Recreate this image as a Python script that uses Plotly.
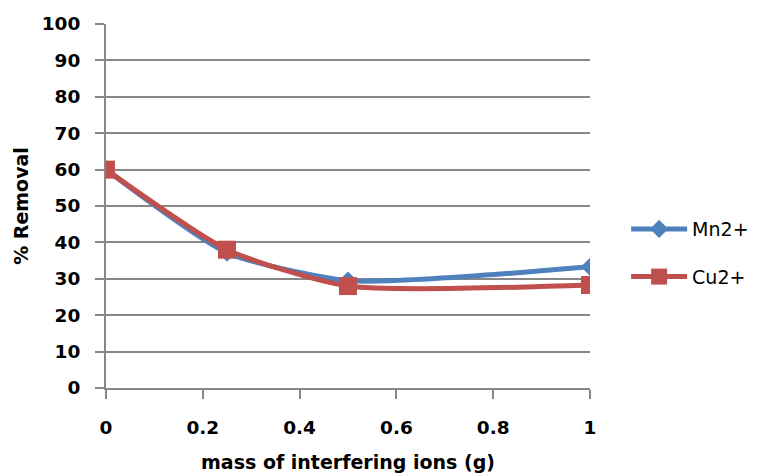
import plotly.graph_objects as go

# Mass of interfering ions (g)
mass_g = [0, 0.25, 0.5, 1]

# Percent removal for each ion
mn_removal = [60, 37.2, 29.5, 33.3]
cu_removal = [60, 38.0, 28.0, 28.3]

series_names = ["Mn2+", "Cu2+"]
x_ticks = [0, 0.2, 0.4, 0.6, 0.8, 1]
x_tick_text = ["0", "0.2", "0.4", "0.6", "0.8", "1"]
y_ticks = list(range(0, 101, 10))

BLUE = "#4F81BD"
RED = "#C0504D"
GRID = "#878787"
FONT = "DejaVu Sans"

fig = go.Figure()
fig.add_trace(go.Scatter(
    x=mass_g, y=mn_removal, name=series_names[0], mode="lines+markers",
    line=dict(color=BLUE, width=5, shape="spline", smoothing=0.6),
    marker=dict(symbol="diamond", size=14, color=BLUE),
    legendgroup="mn",
))
fig.add_trace(go.Scatter(
    x=mass_g, y=cu_removal, name=series_names[1], mode="lines+markers",
    line=dict(color=RED, width=5, shape="spline", smoothing=0.6),
    marker=dict(symbol="square", size=18, color=RED),
    legendgroup="cu",
))

fig.update_layout(
    width=758, height=473,
    margin=dict(l=106, r=168, t=24, b=85, autoexpand=False),
    paper_bgcolor="white", plot_bgcolor="white",
    font=dict(family=FONT, color="#000000"),
    showlegend=True,
    legend=dict(
        xref="container", x=0.826, xanchor="left",
        yref="container", y=0.465, yanchor="middle",
        font=dict(family=FONT, size=19, color="#000000"),
        itemwidth=56, tracegroupgap=20,
        bgcolor="rgba(0,0,0,0)",
    ),
    xaxis=dict(
        range=[0, 1], tickvals=x_ticks, ticktext=x_tick_text,
        showgrid=False, zeroline=False, automargin=False,
        showline=True, linecolor=GRID, linewidth=2,
        ticks="outside", ticklen=9, tickwidth=2, tickcolor=GRID,
        ticklabelstandoff=13,
        tickfont=dict(family=FONT, size=18.5, weight="bold"),
        title=dict(text="mass of interfering ions (g)",
                   font=dict(family=FONT, size=19, weight="bold"), standoff=24),
    ),
    yaxis=dict(
        range=[0, 100], tickvals=y_ticks,
        showgrid=True, gridcolor=GRID, gridwidth=2, zeroline=False, automargin=False,
        showline=True, linecolor=GRID, linewidth=2,
        ticks="outside", ticklen=9, tickwidth=2, tickcolor=GRID,
        ticklabelstandoff=11,
        tickfont=dict(family=FONT, size=18.5, weight="bold"),
        title=dict(text="% Removal",
                   font=dict(family=FONT, size=19, weight="bold"), standoff=8),
    ),
)

fig.write_html("out.html")
